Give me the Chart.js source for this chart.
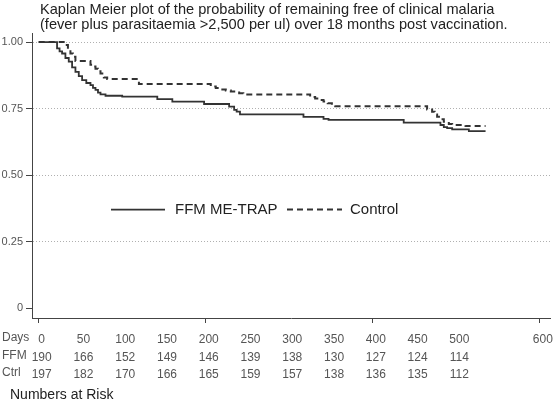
<!DOCTYPE html>
<html>
<head>
<meta charset="utf-8">
<script src="https://cdn.jsdelivr.net/npm/chart.js@4/dist/chart.umd.min.js"></script>
<style>
  html, body { margin: 0; padding: 0; background: #ffffff; }
  #wrap { width: 558px; height: 403px; position: relative; }
</style>
</head>
<body>
<div id="wrap"><canvas id="c" width="558" height="403"></canvas></div>
<script>
// ---- Data ----
const titleLines = [
  "Kaplan Meier plot of the probability of remaining free of clinical malaria",
  "(fever plus parasitaemia >2,500 per ul) over 18 months post vaccination."
];
const seriesNames = ["FFM ME-TRAP", "Control"];

// Kaplan-Meier step points: day of change and survival after it
const ffmDays = [0, 18, 22, 25, 28, 32, 36, 40, 44, 48, 52, 57, 62, 65, 68, 71, 74, 80, 100, 142, 160, 198, 228, 234, 237, 241, 317, 341, 347, 437, 481, 485, 489, 495, 515, 535];
const ffmSurv = [1.0, 1.0, 0.976, 0.965, 0.957, 0.94, 0.926, 0.905, 0.888, 0.872, 0.857, 0.846, 0.838, 0.828, 0.82, 0.81, 0.803, 0.798, 0.795, 0.785, 0.776, 0.767, 0.757, 0.745, 0.738, 0.728, 0.719, 0.711, 0.707, 0.697, 0.688, 0.68, 0.676, 0.672, 0.665, 0.665];

const ctrlDays = [0, 28, 32, 35, 38, 41, 44, 62, 65, 68, 71, 74, 78, 82, 120, 206, 212, 218, 224, 230, 240, 245, 325, 331, 336, 341, 346, 351, 355, 465, 471, 474, 477, 481, 485, 491, 495, 511, 535];
const ctrlSurv = [1.0, 1.0, 0.989, 0.972, 0.957, 0.945, 0.929, 0.915, 0.908, 0.90, 0.89, 0.882, 0.867, 0.861, 0.842, 0.833, 0.827, 0.822, 0.818, 0.814, 0.807, 0.803, 0.793, 0.788, 0.782, 0.776, 0.77, 0.763, 0.759, 0.746, 0.738, 0.728, 0.719, 0.71, 0.70, 0.692, 0.688, 0.684, 0.684];

// Numbers at risk table
const tableDays = [0, 50, 100, 150, 200, 250, 300, 350, 400, 450, 500, 600];
const atRiskFFM = [190, 166, 152, 149, 146, 139, 138, 130, 127, 124, 114, null];
const atRiskCtrl = [197, 182, 170, 166, 165, 159, 157, 138, 136, 135, 112, null];
const tableRowLabels = ["Days", "FFM", "Ctrl"];
const tableCaption = "Numbers at Risk";

const yTicks = [0, 0.25, 0.5, 0.75, 1.0];
const xMajorEvery = 200;

// ---- Chart ----
const FONT = "'Liberation Sans', Arial, sans-serif";
const toPts = (xs, ys) => xs.map((x, i) => ({ x: x, y: ys[i] }));

const overlay = {
  id: 'overlay',
  afterDraw(chart) {
    const ctx = chart.ctx;
    const ys = chart.scales.y;
    ctx.save();
    // Title
    ctx.fillStyle = '#222';
    ctx.font = '14.6px ' + FONT;
    ctx.textAlign = 'left';
    ctx.textBaseline = 'middle';
    ctx.fillText(titleLines[0], 40, 10);
    ctx.fillText(titleLines[1], 40, 25);

    // Legend
    const ly = ys.getPixelForValue(0.37);
    ctx.strokeStyle = '#333';
    ctx.lineWidth = 1.8;
    ctx.setLineDash([]);
    ctx.beginPath(); ctx.moveTo(111, ly); ctx.lineTo(165, ly); ctx.stroke();
    ctx.lineWidth = 2;
    ctx.setLineDash([6, 4]);
    ctx.beginPath(); ctx.moveTo(287, ly); ctx.lineTo(342, ly); ctx.stroke();
    ctx.setLineDash([]);
    ctx.fillStyle = '#222';
    ctx.font = '15px ' + FONT;
    ctx.fillText(seriesNames[0], 175, ly);
    ctx.fillText(seriesNames[1], 350, ly);

    // Table row labels
    ctx.fillStyle = '#555';
    ctx.font = '12px ' + FONT;
    const rowY = [338, 356, 373];
    tableRowLabels.forEach((t, i) => ctx.fillText(t, 2, rowY[i]));

    // Caption
    ctx.fillStyle = '#222';
    ctx.font = '14px ' + FONT;
    ctx.fillText(tableCaption, 10, 395);
    ctx.restore();
  }
};

new Chart(document.getElementById('c'), {
  type: 'line',
  data: {
    datasets: [
      {
        label: seriesNames[0],
        data: toPts(ffmDays, ffmSurv),
        borderColor: '#333',
        borderWidth: 1.8,
        stepped: 'before',
        pointRadius: 0,
        fill: false
      },
      {
        label: seriesNames[1],
        data: toPts(ctrlDays, ctrlSurv),
        borderColor: '#333',
        borderWidth: 2,
        borderDash: [6, 4],
        stepped: 'before',
        pointRadius: 0,
        fill: false
      }
    ]
  },
  options: {
    responsive: false,
    animation: false,
    events: [],
    layout: { padding: { top: 33, right: 6, left: 0, bottom: 0 } },
    plugins: { legend: { display: false }, title: { display: false }, tooltip: { enabled: false } },
    scales: {
      x: {
        type: 'linear',
        min: -8,
        max: 613,
        afterBuildTicks: (axis) => { axis.ticks = tableDays.map(v => ({ value: v })); },
        afterFit: (scale) => { scale.height = 85; },
        ticks: {
          autoSkip: false,
          maxRotation: 0,
          minRotation: 0,
          padding: 8,
          labelOffset: 3,
          color: '#555',
          font: { family: FONT, size: 12, lineHeight: 1.46 },
          callback: (value) => {
            const i = tableDays.indexOf(value);
            return [String(value),
                    atRiskFFM[i] == null ? '' : String(atRiskFFM[i]),
                    atRiskCtrl[i] == null ? '' : String(atRiskCtrl[i])];
          }
        },
        grid: {
          drawOnChartArea: false,
          drawTicks: true,
          tickLength: 5,
          tickWidth: 1,
          tickBorderDash: [],
          tickColor: (ctx) => (ctx.tick && ctx.tick.value % xMajorEvery === 0) ? '#444' : 'rgba(0,0,0,0)'
        },
        border: { display: true, color: '#444', width: 1 }
      },
      y: {
        min: -0.0376,
        max: 1.034,
        afterBuildTicks: (axis) => { axis.ticks = yTicks.map(v => ({ value: v })); },
        afterFit: (scale) => { scale.width = 32; },
        ticks: {
          padding: 3,
          color: '#555',
          font: { family: FONT, size: 11 },
          callback: (value) => value === 0 ? '0' : value.toFixed(2)
        },
        grid: {
          color: (ctx) => (ctx.tick && ctx.tick.value === 0) ? 'rgba(0,0,0,0)' : '#b0b0b0',
          lineWidth: 1,
          drawTicks: true,
          tickLength: 6,
          tickColor: '#444',
          tickBorderDash: []
        },
        border: { display: true, color: '#444', width: 1, dash: [1, 2] }
      }
    }
  },
  plugins: [overlay]
});
</script>
</body>
</html>
